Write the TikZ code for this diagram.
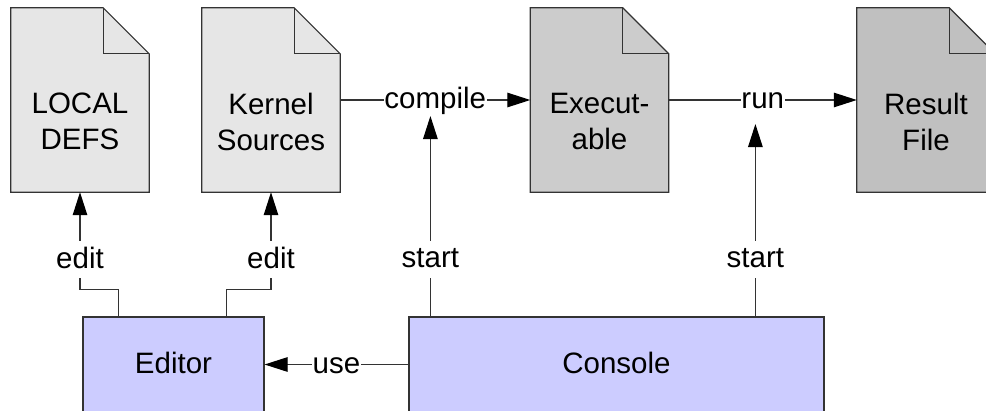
\documentclass[tikz,border=0pt]{standalone}
\usepackage{fontspec}
\setmainfont{Liberation Sans}
\usetikzlibrary{arrows.meta,calc}
\definecolor{docA}{HTML}{E6E6E6}
\definecolor{docB}{HTML}{CCCCCC}
\definecolor{docC}{HTML}{C0C0C0}
\definecolor{boxfill}{HTML}{CCCCFF}
\definecolor{linec}{HTML}{333333}
\tikzset{
  docbox/.style={minimum width=138pt, minimum height=184pt, inner sep=0pt},
  doctext/.style={align=center, font=\fontsize{29.5}{36}\selectfont, inner sep=0pt},
  docline/.style={draw=linec, line width=1.2pt, line join=miter},
  appbox/.style={draw=linec, line width=1.2pt, fill=boxfill, minimum height=95pt, inner sep=0pt,
    text height=23.6pt, text depth=5.9pt, font=\fontsize{29.5}{36}\selectfont},
  conn/.style={draw=linec, line width=1.2pt},
  arr/.style={conn, -{Triangle[length=23pt,width=14.5pt,color=black,fill=black]}},
  lbl/.style={fill=white, inner xsep=0.5pt, inner ysep=3.75pt, text height=23.6pt, text depth=5.9pt,
    font=\fontsize{29.5}{36}\selectfont},
}
\newcommand{\docshape}[2]{%
  \filldraw[docline, fill=#2] (#1.north west) -- ([xshift=-46pt]#1.north east) -- ([yshift=-46pt]#1.north east) -- (#1.south east) -- (#1.south west) -- cycle;
  \draw[docline] ([xshift=-46pt]#1.north east) |- ([yshift=-46pt]#1.north east);
}
\begin{document}
\begin{tikzpicture}[x=1pt, y=-1pt]
\useasboundingbox (0,0) rectangle (986,410);
\clip (0,0) rectangle (986,410);
% documents
\node[docbox] (d1) at (80,100) {};
\node[docbox] (d2) at (271,100) {};
\node[docbox] (d3) at (599.5,100) {};
\node[docbox] (d4) at (926,100) {};
\docshape{d1}{docA}
\docshape{d2}{docA}
\docshape{d3}{docB}
\docshape{d4}{docC}
\node[doctext] (t1) at ([yshift=-21.5pt]d1.center) {LOCAL\\DEFS};
\node[doctext] (t2) at ([yshift=-21.5pt]d2.center) {Kernel\\Sources};
\node[doctext] (t3) at ([yshift=-21.5pt]d3.center) {Execut-\\able};
\node[doctext] (t4) at ([yshift=-21.5pt]d4.center) {Result\\File};
% tools
\node[appbox, minimum width=181pt] (editor) at (173.5,364.5) {Editor};
\node[appbox, minimum width=415pt] (console) at (616.5,364.5) {Console};
% connectors
\draw[arr] (d2.east) -- node[lbl] (compileL) {compile} (d3.west);
\draw[arr] (d3.east) -- node[lbl] (runL) {run} (d4.west);
\draw[arr] (console.west) -- node[lbl] (useL) {use} (editor.east);
\coordinate (s1) at ([xshift=22pt]console.north west);
\coordinate (s2) at ([xshift=347pt]console.north west);
\draw[arr] (s1) -- node[lbl, pos=0.286] (st1) {start} ($(s1 |- compileL.center)+(0,16)$);
\draw[arr] (s2) -- node[lbl, pos=0.298] (st2) {start} ($(s2 |- runL.center)+(0,24)$);
\coordinate (e1) at ([xshift=36pt]editor.north west);
\coordinate (e2) at ([xshift=144pt]editor.north west);
\draw[arr] (e1) -- ++(0,-27) -| node[lbl, pos=0.652] (ed1) {edit} (d1.south);
\draw[arr] (e2) -- ++(0,-27) -| node[lbl, pos=0.652] (ed2) {edit} (d2.south);
\end{tikzpicture}
\end{document}
